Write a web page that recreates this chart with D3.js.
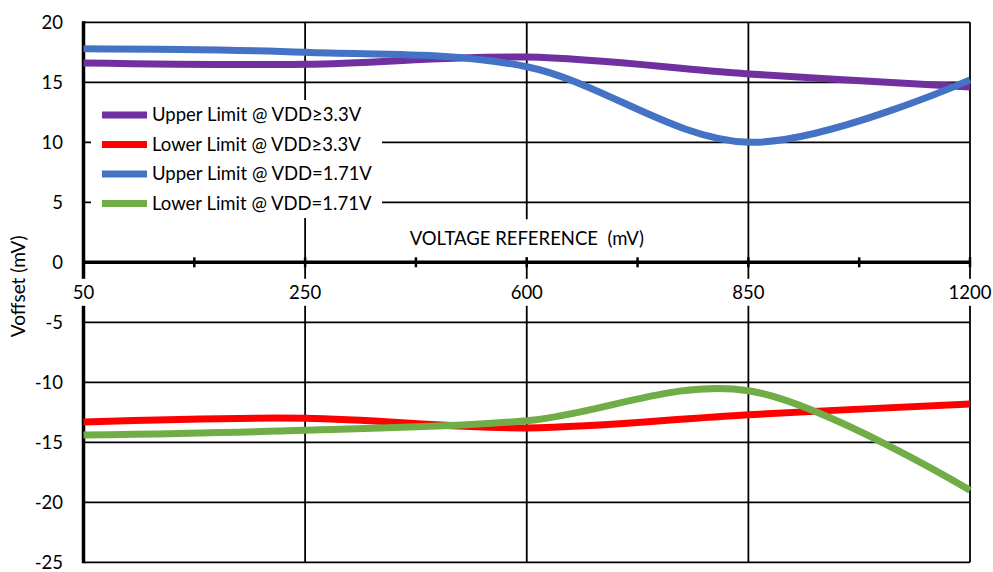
<!DOCTYPE html>
<html>
<head>
<meta charset="utf-8">
<script src="https://cdn.jsdelivr.net/npm/d3@7"></script>
<style>
  html, body { margin: 0; padding: 0; background: #fff; }
  svg { display: block; font-family: Lato, "Open Sans", sans-serif; }
</style>
</head>
<body>
<div id="chart"></div>
<script>
// categories on the x axis (mV)
const categories = ["50", "250", "600", "850", "1200"];
const yTicks = [20, 15, 10, 5, 0, -5, -10, -15, -20, -25];

// series values (mV)
const upper33 = [16.6, 16.5, 17.1, 15.7, 14.6];
const lower33 = [-13.3, -13.0, -13.8, -12.7, -11.8];
const upper171 = [17.8, 17.5, 16.3, 10.0, 15.2];
const lower171 = [-14.4, -14.0, -13.2, -10.7, -19.0];

const seriesNames = [
  "Upper Limit @ VDD\u22653.3V",
  "Lower Limit @ VDD\u22653.3V",
  "Upper Limit @ VDD=1.71V",
  "Lower Limit @ VDD=1.71V",
];
const seriesColors = ["#7030A0", "#FF0000", "#4472C4", "#70AD47"];

const series = [upper33, lower33, upper171, lower171].map((values, i) => ({
  name: seriesNames[i],
  color: seriesColors[i],
  values,
}));

const width = 993,
  height = 572;
const margin = { top: 22.3, right: 23, bottom: 9.7, left: 83.5 };

const x = d3
  .scalePoint()
  .domain(categories)
  .range([margin.left, width - margin.right]);

const y = d3
  .scaleLinear()
  .domain([-25, 20])
  .range([height - margin.bottom, margin.top]);

const svg = d3
  .select("#chart")
  .append("svg")
  .attr("width", width)
  .attr("height", height)
  .attr("viewBox", [0, 0, width, height]);

// horizontal gridlines
svg
  .append("g")
  .attr("class", "y-grid")
  .selectAll("line")
  .data(yTicks.filter((d) => d !== 0))
  .join("line")
  .attr("x1", margin.left)
  .attr("x2", width - margin.right)
  .attr("y1", (d) => y(d))
  .attr("y2", (d) => y(d))
  .attr("stroke", "#000")
  .attr("stroke-width", 1.7);

// vertical gridlines at each category
svg
  .append("g")
  .attr("class", "x-grid")
  .selectAll("line")
  .data(categories.slice(1))
  .join("line")
  .attr("x1", (d) => x(d))
  .attr("x2", (d) => x(d))
  .attr("y1", y(20))
  .attr("y2", y(-25))
  .attr("stroke", "#000")
  .attr("stroke-width", 1.8);

// left axis line
svg
  .append("line")
  .attr("x1", margin.left)
  .attr("x2", margin.left)
  .attr("y1", y(20) - 1)
  .attr("y2", y(-25) + 1)
  .attr("stroke", "#000")
  .attr("stroke-width", 3.5);

// y tick labels
svg
  .append("g")
  .attr("class", "y-labels")
  .selectAll("text")
  .data(yTicks)
  .join("text")
  .attr("x", 63)
  .attr("y", (d) => y(d))
  .attr("dy", "0.35em")
  .attr("text-anchor", "end")
  .attr("font-size", 18.5)
  .attr("fill", "#000")
  .text((d) => d);

// x tick labels, with a white backing that cuts the gridlines
const xLabels = svg.append("g").attr("class", "x-labels");
xLabels
  .selectAll("g")
  .data(categories)
  .join("g")
  .attr("transform", (d) => `translate(${x(d)},${y(0) + 30})`)
  .each(function (d) {
    const g = d3.select(this);
    const rect = g.append("rect").attr("fill", "#fff");
    const t = g
      .append("text")
      .attr("text-anchor", "middle")
      .attr("dy", "0.35em")
      .attr("font-size", 18.5)
      .attr("fill", "#000")
      .text(d);
    const b = t.node().getBBox();
    rect
      .attr("x", b.x - 3)
      .attr("y", -13.5)
      .attr("width", b.width + 6)
      .attr("height", 27);
  });

// x axis title
const title = svg
  .append("g")
  .attr("transform", `translate(${x("600")},${y(0) - 24})`);
const titleRect = title.append("rect").attr("fill", "#fff");
const titleText = title
  .append("text")
  .attr("text-anchor", "middle")
  .attr("dy", "0.35em")
  .attr("font-size", 18.5)
  .attr("fill", "#000")
  .attr("xml:space", "preserve")
  .style("white-space", "pre")
  .text("VOLTAGE REFERENCE  (mV)");
const tb = titleText.node().getBBox();
titleRect
  .attr("x", tb.x - 4)
  .attr("y", -19)
  .attr("width", tb.width + 8)
  .attr("height", 38);

// x axis (at zero) with ticks between categories
const step = x.step();
const tickPositions = d3.range(0, categories.length * 2 - 1).map(
  (i) => margin.left + (i * step) / 2
);
svg
  .append("line")
  .attr("x1", margin.left)
  .attr("x2", width - margin.right)
  .attr("y1", y(0))
  .attr("y2", y(0))
  .attr("stroke", "#000")
  .attr("stroke-width", 3.5);
svg
  .append("g")
  .attr("class", "x-ticks")
  .selectAll("line")
  .data(tickPositions)
  .join("line")
  .attr("x1", (d) => d)
  .attr("x2", (d) => d)
  .attr("y1", y(0) - 5)
  .attr("y2", y(0) + 5)
  .attr("stroke", "#000")
  .attr("stroke-width", 2.5);

// y axis title
svg
  .append("text")
  .attr("transform", `translate(18,${(y(20) + y(-25)) / 2 - 6}) rotate(-90)`)
  .attr("text-anchor", "middle")
  .attr("dy", "0.35em")
  .attr("font-size", 19)
  .attr("fill", "#000")
  .text("Voffset (mV)");

// series lines (Excel-style smoothing)
const line = d3
  .line()
  .x((d, i) => x(categories[i]))
  .y((d) => y(d))
  .curve(d3.curveCatmullRom.alpha(0));

svg
  .append("g")
  .attr("class", "series")
  .selectAll("path")
  .data(series)
  .join("path")
  .attr("fill", "none")
  .attr("stroke", (d) => d.color)
  .attr("stroke-width", 7)
  .attr("d", (d) => line(d.values));

// legend
const legend = svg.append("g").attr("class", "legend");
legend
  .append("rect")
  .attr("x", 91)
  .attr("y", 100)
  .attr("width", 291)
  .attr("height", 118)
  .attr("fill", "#fff");

const legendItems = legend
  .selectAll(".legend-item")
  .data(series)
  .join("g")
  .attr("class", "legend-item")
  .attr("transform", (d, i) => `translate(102,${115 + i * 29.5})`);

legendItems
  .append("line")
  .attr("x1", 0)
  .attr("x2", 45)
  .attr("stroke", (d) => d.color)
  .attr("stroke-width", 7);

legendItems
  .append("text")
  .attr("x", 50)
  .attr("dy", "0.35em")
  .attr("font-size", 18.5)
  .attr("fill", "#000")
  .text((d) => d.name);
</script>
</body>
</html>
